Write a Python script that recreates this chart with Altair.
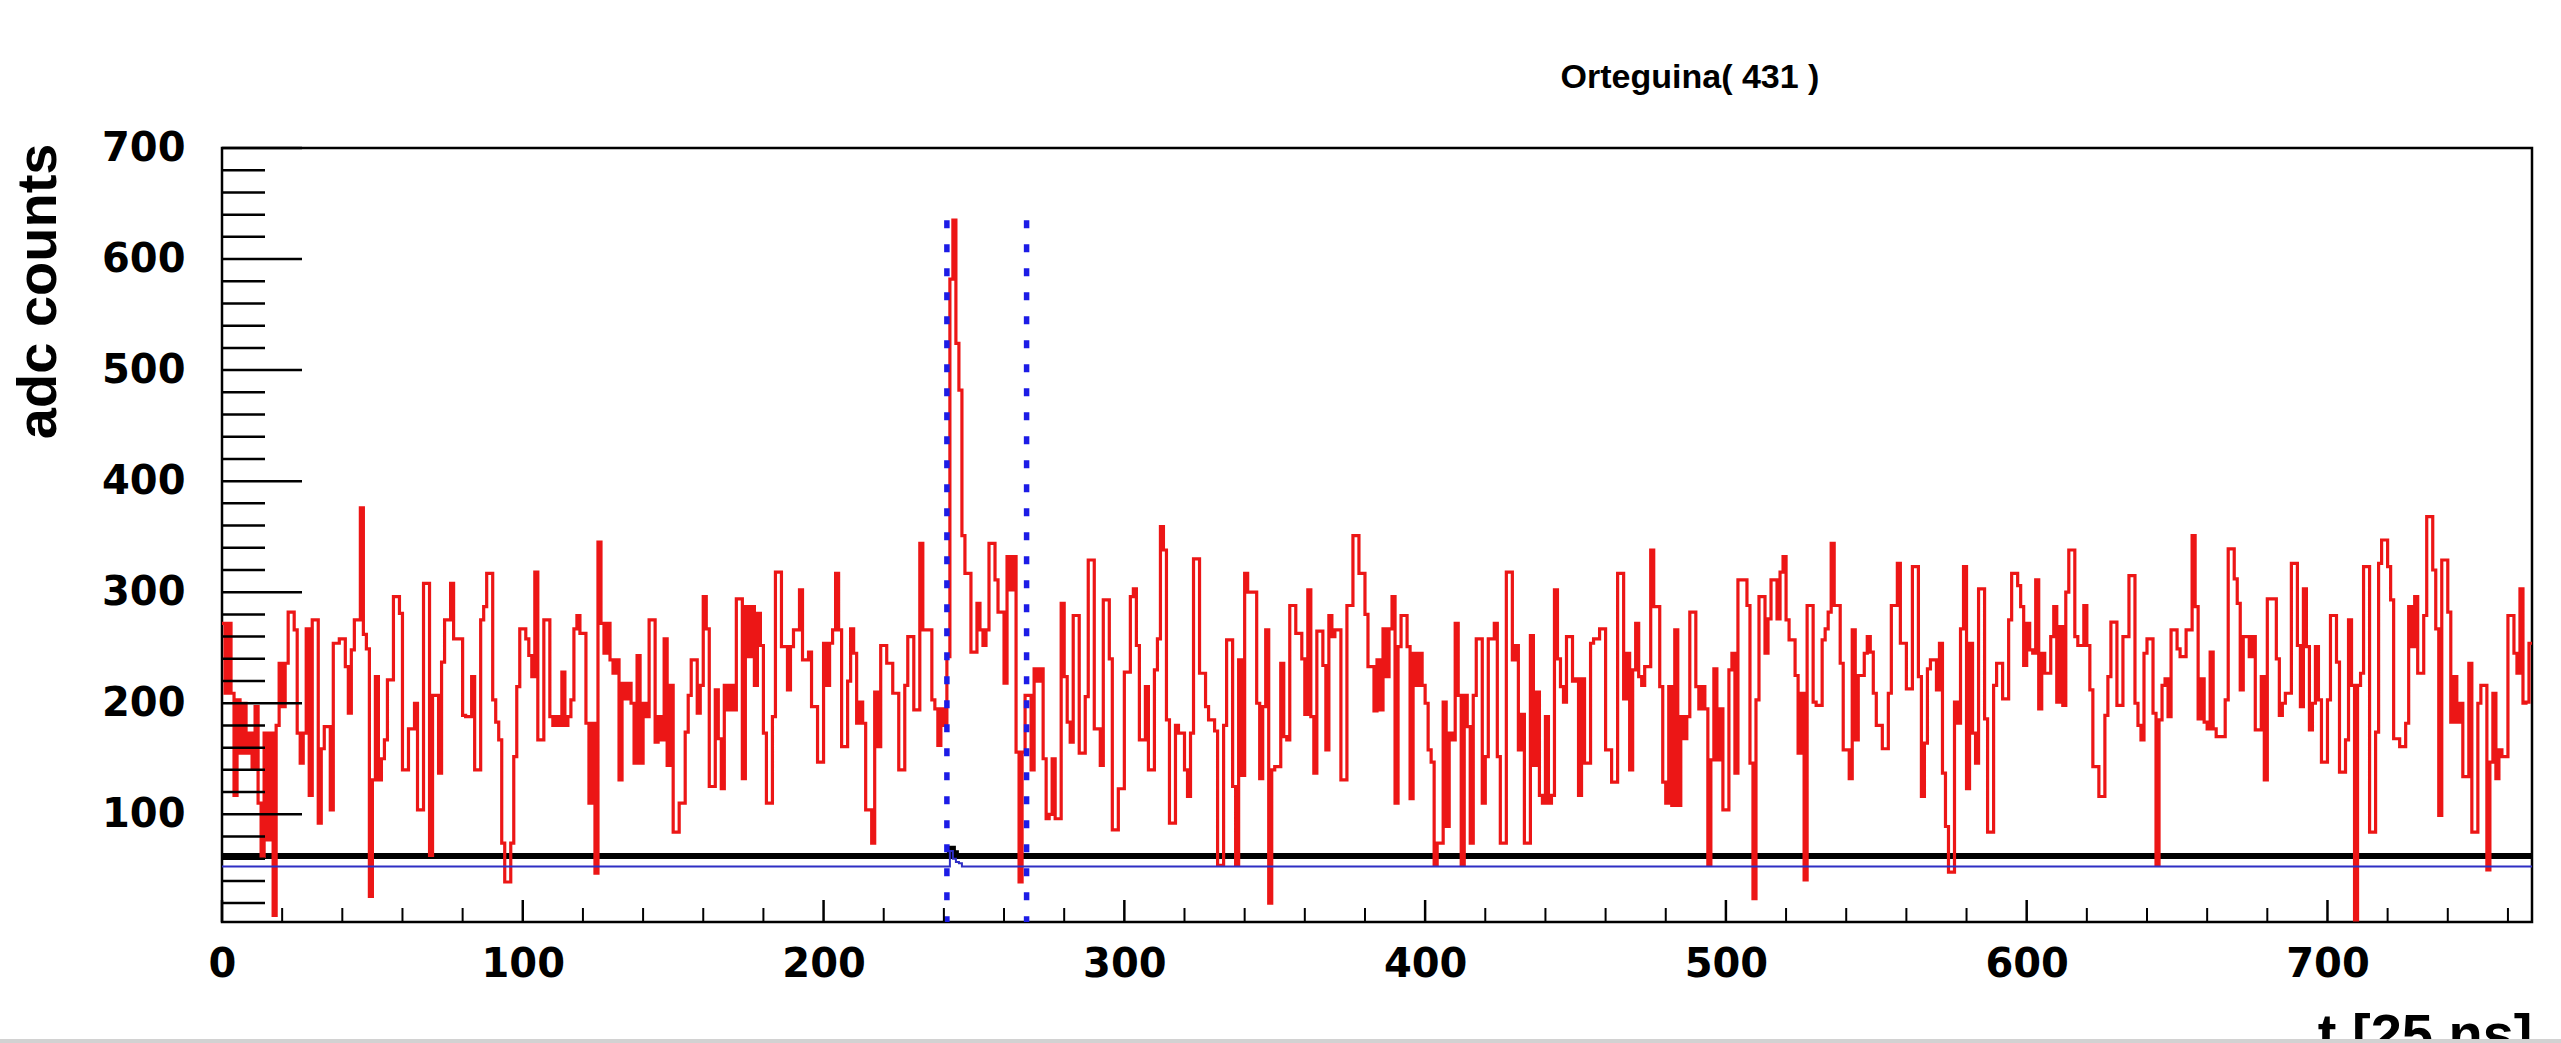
import altair as alt
import pandas as pd

TITLE = "Orteguina( 431 )"
X_TITLE = "t [25 ns]"
Y_TITLE = "adc counts"

# red trace, adc counts per 25 ns bin, bins 0..767
adc_000 = [272, 209, 272, 209, 117, 203, 155, 200, 155, 173,
           141, 197, 110, 62, 173, 77, 173, 9, 180, 236,
           197, 236, 282, 282, 266, 173, 146, 173, 267, 117,
           275, 275, 92, 159, 179, 179, 104, 254, 254, 258,
           258, 233, 191, 248, 275, 275, 376, 262, 249, 26,
           131, 224, 131, 150, 167, 221, 221, 296, 296, 281,
           140, 140, 177, 177, 200, 104, 104, 308, 308, 63,
           207, 207, 137, 237, 275, 275, 308, 258, 258, 258,
           189, 188, 188, 224, 140, 140, 275, 287, 317, 317,
           203, 183, 167, 74, 39, 39, 74, 152, 215, 267,
           267, 258, 243, 224, 318, 167, 167, 275, 275, 188,
           180, 188, 180, 228, 180, 188, 203, 267, 279, 263,
           263, 182, 110, 182, 47, 345, 272, 245]
adc_128 = [272, 239, 227, 239, 131, 218, 204, 218, 200, 146,
           243, 146, 200, 188, 275, 275, 165, 188, 167, 258,
           144, 216, 84, 84, 110, 110, 174, 207, 239, 239,
           191, 216, 296, 267, 125, 125, 212, 168, 123, 216,
           194, 216, 194, 294, 294, 132, 287, 242, 287, 216,
           281, 252, 173, 110, 110, 188, 318, 318, 251, 251,
           212, 251, 266, 266, 302, 239, 239, 246, 197, 197,
           147, 147, 254, 216, 254, 266, 317, 266, 161, 161,
           220, 267, 245, 182, 201, 182, 104, 104, 74, 210,
           161, 252, 252, 236, 236, 209, 209, 140, 140, 216,
           260, 260, 194, 194, 344, 266, 266, 266, 203, 195,
           162, 195, 180, 242, 582, 635, 524, 482, 351, 317,
           317, 246, 246, 290, 266, 252, 266, 344]
adc_256 = [344, 311, 282, 282, 218, 332, 302, 332, 156, 39,
           156, 207, 207, 140, 231, 220, 231, 150, 96, 100,
           150, 96, 96, 290, 224, 183, 165, 279, 279, 155,
           155, 206, 329, 329, 177, 177, 144, 293, 293, 240,
           86, 86, 123, 123, 228, 228, 296, 303, 252, 167,
           167, 215, 140, 140, 230, 258, 359, 338, 185, 92,
           92, 180, 173, 173, 140, 116, 173, 330, 330, 227,
           227, 197, 185, 185, 175, 54, 54, 180, 257, 257,
           125, 54, 239, 135, 317, 300, 300, 300, 200, 132,
           197, 266, 20, 140, 143, 143, 236, 170, 167, 288,
           288, 263, 263, 240, 190, 302, 188, 137, 265, 265,
           234, 158, 279, 260, 266, 266, 131, 131, 288, 288,
           351, 351, 317, 317, 280, 233, 233, 193]
adc_384 = [239, 194, 267, 224, 267, 296, 110, 251, 279, 279,
           251, 114, 245, 216, 245, 216, 200, 158, 147, 54,
           74, 74, 201, 89, 173, 167, 272, 207, 54, 207,
           179, 74, 207, 258, 258, 110, 152, 258, 258, 272,
           152, 74, 74, 318, 318, 239, 252, 158, 190, 74,
           74, 261, 144, 210, 117, 110, 188, 110, 117, 302,
           240, 215, 201, 260, 260, 220, 222, 117, 222, 146,
           146, 254, 258, 258, 267, 267, 158, 158, 129, 129,
           317, 317, 204, 245, 140, 230, 272, 224, 216, 233,
           233, 338, 287, 287, 215, 129, 110, 215, 108, 266,
           108, 188, 168, 188, 282, 282, 215, 195, 215, 195,
           54, 149, 231, 149, 195, 104, 104, 230, 245, 137,
           311, 311, 311, 288, 146, 24, 203, 296]
adc_512 = [296, 245, 276, 311, 311, 276, 318, 332, 275, 257,
           257, 225, 155, 209, 41, 288, 288, 201, 198, 198,
           257, 267, 282, 344, 288, 288, 236, 158, 158, 132,
           266, 167, 225, 225, 245, 260, 246, 209, 180, 180,
           159, 159, 209, 288, 288, 326, 254, 254, 213, 213,
           323, 323, 224, 116, 164, 231, 239, 239, 212, 254,
           137, 89, 48, 48, 201, 182, 267, 323, 123, 254,
           173, 146, 303, 303, 186, 84, 84, 216, 236, 236,
           204, 204, 275, 317, 317, 306, 287, 234, 272, 248,
           245, 311, 195, 245, 227, 227, 260, 287, 201, 269,
           198, 300, 338, 338, 260, 252, 252, 288, 252, 212,
           143, 143, 116, 116, 189, 224, 273, 273, 198, 198,
           260, 260, 315, 315, 200, 180, 167, 245]
adc_640 = [258, 258, 191, 54, 185, 216, 222, 188, 266, 266,
           249, 242, 242, 266, 266, 351, 287, 186, 222, 183,
           177, 246, 177, 170, 170, 170, 203, 339, 339, 312,
           290, 212, 260, 260, 242, 260, 176, 176, 224, 131,
           294, 294, 294, 240, 189, 200, 209, 209, 326, 326,
           252, 197, 303, 251, 176, 200, 251, 203, 147, 147,
           203, 279, 279, 237, 138, 138, 167, 275, 216, 5,
           216, 227, 323, 323, 84, 84, 174, 326, 347, 347,
           323, 293, 168, 168, 161, 161, 182, 287, 251, 296,
           227, 227, 279, 368, 368, 320, 267, 99, 329, 329,
           282, 183, 224, 183, 200, 134, 134, 236, 84, 84,
           200, 216, 216, 50, 147, 209, 132, 158, 152, 152,
           279, 279, 245, 227, 303, 200, 201, 254]

adc_counts = adc_000 + adc_128 + adc_256 + adc_384 + adc_512 + adc_640
n_bins = len(adc_counts)

# black baseline trace and blue pedestal line
baseline_level = 62.5
baseline_bump_bins = [242, 243]
baseline_bump_vals = [69, 65]
pedestal_level = 53
pedestal_bump_bins = [242, 243, 244, 245]
pedestal_bump_vals = [67, 60, 57, 56]

# blue dotted signal window
window_edges = [241, 267.5]
window_top = 635

# axes
x_domain = [0, 768]
y_domain = [3, 700]
x_label_values = [0, 100, 200, 300, 400, 500, 600, 700]
x_minor_ticks = [20, 40, 60, 80, 120, 140, 160, 180, 220, 240, 260, 280,
                 320, 340, 360, 380, 420, 440, 460, 480, 520, 540, 560, 580,
                 620, 640, 660, 680, 720, 740, 760]
y_label_values = [100, 200, 300, 400, 500, 600, 700]
y_minor_ticks = [20, 40, 60, 80, 120, 140, 160, 180, 220, 240, 260, 280,
                 320, 340, 360, 380, 420, 440, 460, 480, 520, 540, 560, 580,
                 620, 640, 660, 680]

RED = "#ec1616"
BLUE_LINE = "#2f2fc4"
BLUE_DOT = "#1c1ce6"

W, H = 2310, 774

red_df = pd.DataFrame({"t": list(range(n_bins)) + [n_bins],
                       "adc": adc_counts + [adc_counts[-1]]})
base_vals = [baseline_level] * n_bins
for b, v in zip(baseline_bump_bins, baseline_bump_vals):
    base_vals[b] = v
base_df = pd.DataFrame({"t": list(range(n_bins)) + [n_bins],
                        "adc": base_vals + [base_vals[-1]]})
ped_vals = [pedestal_level] * n_bins
for b, v in zip(pedestal_bump_bins, pedestal_bump_vals):
    ped_vals[b] = v
ped_df = pd.DataFrame({"t": list(range(n_bins)) + [n_bins],
                       "adc": ped_vals + [ped_vals[-1]]})
win_df = pd.DataFrame({"t": window_edges,
                       "adc": [window_top] * len(window_edges),
                       "bottom": [y_domain[0]] * len(window_edges)})
xt_major_df = pd.DataFrame({"t": x_label_values})
xt_minor_df = pd.DataFrame({"t": x_minor_ticks})
yt_major_df = pd.DataFrame({"adc": y_label_values})
yt_minor_df = pd.DataFrame({"adc": y_minor_ticks})

xscale = alt.Scale(domain=x_domain, nice=False, zero=False)
yscale = alt.Scale(domain=y_domain, nice=False, zero=False)

x_axis = alt.Axis(values=x_label_values, ticks=False, domain=False, grid=False,
                  labelFont="DejaVu Sans", labelFontWeight="bold", labelFontSize=40,
                  labelColor="black", labelPadding=22, labelFlush=False,
                  titleFont="Liberation Sans", titleFontWeight="bold",
                  titleFontSize=56, titleColor="black", titleX=W, titleY=86,
                  titleAlign="right", titleBaseline="top")
y_axis = alt.Axis(values=y_label_values, ticks=False, domain=False, grid=False,
                  labelFont="DejaVu Sans", labelFontWeight="bold", labelFontSize=40,
                  labelColor="black", labelPadding=37, labelFlush=False,
                  titleFont="Liberation Sans", titleFontWeight="bold",
                  titleFontSize=56, titleColor="black", titleX=-184, titleY=-5,
                  titleAngle=270, titleAlign="right", titleBaseline="middle")

X = alt.X("t:Q", scale=xscale, axis=x_axis, title=X_TITLE)
Y = alt.Y("adc:Q", scale=yscale, axis=y_axis, title=Y_TITLE)

base = alt.Chart(base_df).mark_line(interpolate="step-after", color="black",
                                     strokeWidth=6, clip=True).encode(x=X, y=Y)

red = alt.Chart(red_df).mark_line(interpolate="step-after", color=RED,
                                   strokeWidth=3.2, clip=True).encode(x=X, y=Y)

ped = alt.Chart(ped_df).mark_line(interpolate="step-after", color=BLUE_LINE,
                                   strokeWidth=2, clip=True).encode(x=X, y=Y)

win = alt.Chart(win_df).mark_rule(color=BLUE_DOT, strokeWidth=5.5,
                                  strokeDash=[8, 16], clip=True).encode(
    x=X, y=Y, y2="bottom:Q")

xt_major = alt.Chart(xt_major_df).mark_rule(color="black", strokeWidth=2.5).encode(
    x=X, y=alt.value(H), y2=alt.value(H - 22))
xt_minor = alt.Chart(xt_minor_df).mark_rule(color="black", strokeWidth=2).encode(
    x=X, y=alt.value(H), y2=alt.value(H - 14))
yt_major = alt.Chart(yt_major_df).mark_rule(color="black", strokeWidth=2.5).encode(
    y=Y, x=alt.value(0), x2=alt.value(80))
yt_minor = alt.Chart(yt_minor_df).mark_rule(color="black", strokeWidth=2.5).encode(
    y=Y, x=alt.value(0), x2=alt.value(43))

title = alt.Chart(pd.DataFrame({"label": [TITLE]})).mark_text(
    font="Liberation Sans", fontWeight="bold", fontSize=34, color="black",
    align="center", baseline="middle").encode(
    text="label:N", x=alt.value(1468), y=alt.value(-70))

strip = alt.Chart(pd.DataFrame({"a": [0]})).mark_rect(color="#d2d2d2").encode(
    x=alt.value(-222), x2=alt.value(W + 29), y=alt.value(H + 117), y2=alt.value(H + 121))

chart = alt.layer(base, red, ped, win, xt_major, xt_minor, yt_major, yt_minor,
                  title, strip).properties(
    width=W, height=H,
    padding={"left": 222, "top": 148, "right": 29, "bottom": 121},
    autosize=alt.AutoSizeParams(type="none"),
    background="white",
).configure_view(stroke="black", strokeWidth=2.5)

chart.save("out.html", embed_options={"renderer": "svg", "actions": False})
